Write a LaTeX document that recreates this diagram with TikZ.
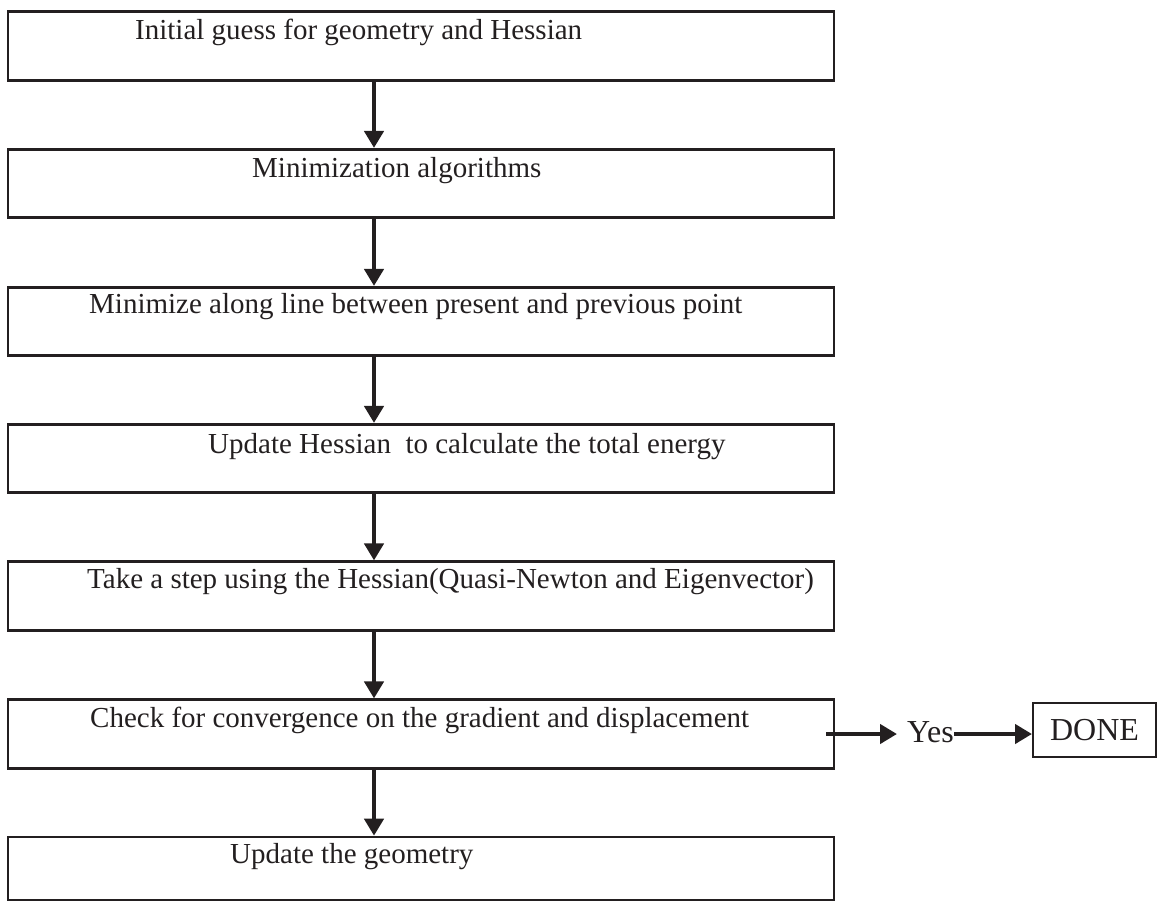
\documentclass[tikz,border=0pt]{standalone}
\usepackage{fontspec}
\setmainfont{Liberation Serif}
\usepackage{xcolor}
\definecolor{ink}{HTML}{231F20}
\usetikzlibrary{arrows.meta,calc}

\begin{document}
\begin{tikzpicture}[x=1pt,y=-1pt,
	stepbox/.style={draw=ink,line width=2.6pt,minimum width=826pt,minimum height=68.5pt,inner sep=0pt},
	steptext/.style={anchor=base west,inner sep=0pt,text=ink,font=\fontsize{29}{34}\selectfont},
	flow/.style={-{Triangle[width=19pt,length=17pt]},line width=4.5pt,draw=ink}]
	\useasboundingbox (0,0) rectangle (1159,903);
	\node[stepbox] (b1) at (421,46) {};
	\node[stepbox] (b2) at (421,183.5) {};
	\node[stepbox] (b3) at (421,321.5) {};
	\node[stepbox] (b4) at (421,458.5) {};
	\node[stepbox] (b5) at (421,596) {};
	\node[stepbox] (b6) at (421,734) {};
	\node[stepbox,minimum height=63pt] (b7) at (421,868.5) {};
	\node[steptext] (t1) at (135,39) {Initial guess for geometry and Hessian};
	\node[steptext] (t2) at (252,177) {Minimization algorithms};
	\node[steptext] (t3) at (89,313) {Minimize along line between present and previous point};
	\node[steptext] (t4) at (208,453) {Update Hessian~ to calculate the total energy};
	\node[steptext] (t5) at (87,588) {Take a step using the Hessian(Quasi-Newton and Eigenvector)};
	\node[steptext] (t6) at (90,727) {Check for convergence on the gradient and displacement};
	\node[steptext] (t7) at (230,863) {Update the geometry};
	\node[steptext,font=\fontsize{32}{38}\selectfont] (yes) at (907,742) {Yes};
	\node[draw=ink,line width=2pt,minimum width=123pt,minimum height=54pt,text=ink,font=\fontsize{32}{38}\selectfont] (done) at (1094.5,730) {DONE};
	\coordinate (ax) at (374,0);
	\draw[flow] (b1.south -| ax) -- (b2.north -| ax);
	\draw[flow] (b2.south -| ax) -- (b3.north -| ax);
	\draw[flow] (b3.south -| ax) -- (b4.north -| ax);
	\draw[flow] (b4.south -| ax) -- (b5.north -| ax);
	\draw[flow] (b5.south -| ax) -- (b6.north -| ax);
	\draw[flow] (b6.south -| ax) -- (b7.north -| ax);
	\draw[flow] ([xshift=-9pt]b6.east) -- ([xshift=-10pt]b6.east -| yes.west);
	\draw[flow] (yes.east |- b6.east) -- (done.west |- b6.east);
\end{tikzpicture}
\end{document}
